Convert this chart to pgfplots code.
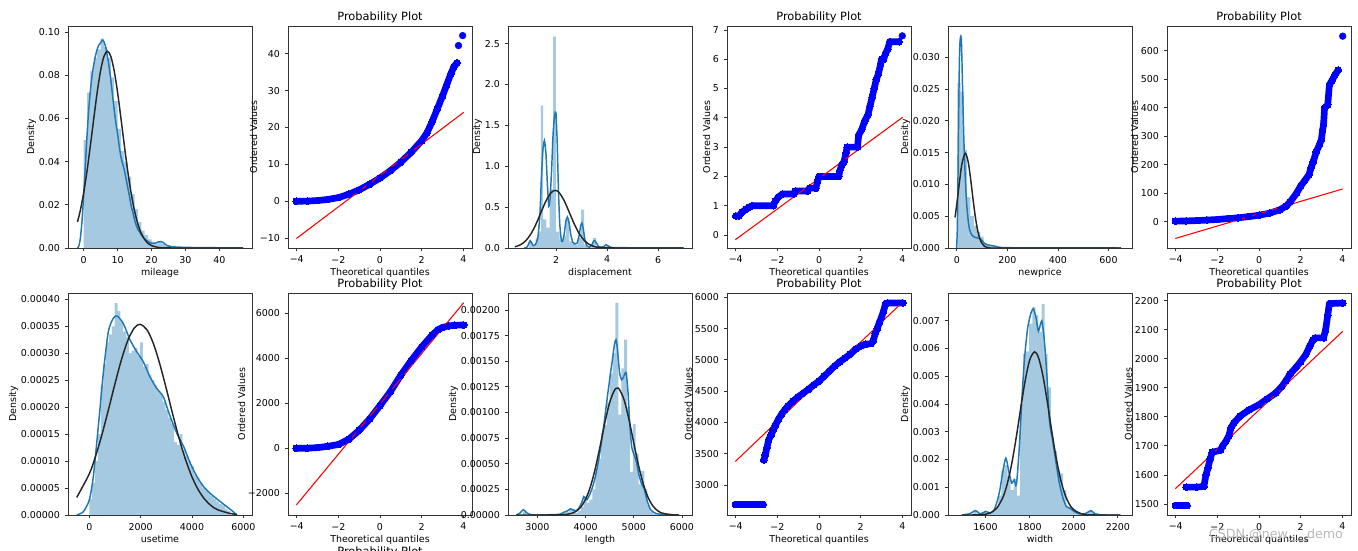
\documentclass[border=0pt]{standalone}
\usepackage{fontspec}
\setmainfont{DejaVu Sans}
\usepackage{pgfplots}
\pgfplotsset{compat=1.18}
\definecolor{mplblue}{RGB}{31,119,180}
\definecolor{fitk}{RGB}{38,38,38}
\pgfplotsset{
  mpl/.style={
    scale only axis, width=138pt, height=166.5pt, anchor=south west,
    axis line style={black!80, line width=0.6pt},
    tick align=outside, tick pos=left, major tick length=2.5pt,
    tick style={black!80, line width=0.6pt},
    tick label style={font=\fontsize{7.1}{8.5}\selectfont},
    label style={font=\fontsize{7.1}{8.5}\selectfont},
    xlabel style={yshift=3pt},
    ylabel style={yshift=-4.8pt},
    title style={font=\fontsize{8.55}{10}\selectfont, at={(0.5,1)}, anchor=base, yshift=-1.7pt},
    /pgf/number format/assume math mode=true,
    /pgf/number format/1000 sep={},
    scaled ticks=false, axis on top, clip=true,
  },
  dens/.style={mpl, ymin=0, ylabel={Density}},
  qq/.style={mpl, xmin=-4.42, xmax=4.42, xtick={-4,-2,0,2,4}, xticklabels={−4,−2,0,2,4},
    xlabel={Theoretical quantiles}, ylabel={Ordered Values}, title={Probability Plot}},
  hist/.style={const plot, fill=mplblue, fill opacity=0.4, draw=none, mark=none},
  kde/.style={mplblue, line width=1.1pt, smooth, tension=0.4, mark=none},
  fit/.style={fitk, line width=1.1pt, smooth, tension=0.5, mark=none},
  band/.style={blue, line width=5pt, line join=round, line cap=round, mark=*, mark size=2.5pt, mark options={draw=blue, fill=blue, line width=0pt}},
  pts/.style={blue, only marks, mark=*, mark size=2.5pt, mark options={draw=blue, fill=blue}},
  redline/.style={red, line width=0.8pt, mark=none},
}
\begin{document}
\begin{tikzpicture}[x=0.75pt,y=0.75pt]
\path[use as bounding box] (0,0) rectangle (1358,550);

% ---------- top row ----------
% mileage density
\begin{axis}[dens, at={(51pt,226.5pt)}, xmin=-4.6, xmax=49.6, ymax=0.1028, xlabel={mileage},
  xtick={0,10,20,30,40}, ytick={0,0.02,0.04,0.06,0.08,0.1},
  yticklabel style={/pgf/number format/fixed, /pgf/number format/fixed zerofill, /pgf/number format/precision=2}]
\addplot[hist] coordinates {(0,0.05)(1,0.072)(2,0.082)(3,0.088)(4,0.092)(5,0.097)(6,0.093)(7,0.088)(8,0.079)(9,0.068)(10,0.055)(11,0.045)(12,0.040)(13,0.033)(14,0.025)(15,0.018)(16,0.012)(17,0.008)(18,0.006)(19,0.004)(20,0.003)(21,0.002)(22,0.003)(23,0.002)(24,0.001)(25,0.001)(26,0.0005)(27,0.0002)(46,0.0002)(47,0)} \closedcycle;
\addplot[kde] coordinates {(-1.8,0)(-1.4,0.001)(-1,0.004)(-0.5,0.012)(0,0.024)(0.5,0.038)(1,0.052)(1.5,0.064)(2,0.073)(2.5,0.080)(3,0.085)(3.5,0.089)(4,0.092)(4.5,0.094)(5,0.095)(5.5,0.0963)(6,0.0955)(6.5,0.093)(7,0.089)(7.5,0.084)(8,0.078)(8.5,0.071)(9,0.064)(9.5,0.058)(10,0.053)(10.5,0.047)(11,0.042)(11.5,0.039)(12,0.036)(12.5,0.032)(13,0.028)(13.5,0.024)(14,0.0195)(14.5,0.0165)(15,0.013)(15.5,0.0105)(16,0.0085)(16.5,0.0075)(17,0.006)(18,0.0042)(19,0.003)(20,0.0022)(21,0.0022)(22,0.0028)(22.8,0.003)(23.5,0.0025)(24.5,0.0012)(26,0.0006)(28,0.0004)(30,0.0003)(33,0.0002)(36,0.0002)(40,0.0001)(44,0.0001)(47,0)};
\addplot[fit] coordinates {(-1.8,0.0121)(-1,0.0172)(0,0.0254)(1,0.0356)(2,0.0475)(3,0.0600)(4,0.0721)(5,0.0821)(6,0.0888)(7,0.0911)(8,0.0888)(9,0.0821)(10,0.0721)(11,0.0600)(12,0.0475)(13,0.0356)(14,0.0254)(15,0.0172)(16,0.0110)(17,0.0067)(18,0.0039)(19,0.0021)(20,0.0011)(22,0.00026)(24,0.00005)(27,0)(35,0)(47,0)};
\end{axis}

% mileage QQ
\begin{axis}[qq, at={(216pt,226.5pt)}, ymin=-12.66, ymax=47.5,
  ytick={-10,0,10,20,30,40}, yticklabels={−10,0,10,20,30,40}]
\addplot[band] coordinates {(-4.02,0)(-3.5,0.05)(-3,0.2)(-2.5,0.5)(-2,1.0)(-1.5,1.9)(-1,3.1)(-0.5,4.6)(0,6.3)(0.5,8.3)(1,10.6)(1.5,13.3)(2,16.4)(2.25,18.5)(2.5,21.5)(2.75,25)(3,28.5)(3.2,31.5)(3.4,34.5)(3.55,36.5)(3.7,37.5)};
\addplot[pts] coordinates {(3.77,42.2)(3.97,44.9)};
\addplot[redline] coordinates {(-4.02,-10.09)(4.02,24.09)};
\end{axis}

% displacement density
\begin{axis}[dens, at={(381pt,226.5pt)}, xmin=0.11, xmax=7.33, ymax=2.715, xlabel={displacement},
  xtick={2,4,6}, ytick={0,0.5,1,1.5,2,2.5},
  yticklabel style={/pgf/number format/fixed, /pgf/number format/fixed zerofill, /pgf/number format/precision=1}]
\addplot[hist] coordinates {(0.60,0)(0.93,0.08)(1.06,0.03)(1.19,0.12)(1.32,0.2)(1.40,1.742)(1.49,0.35)(1.62,0.25)(1.74,0.72)(1.88,2.585)(1.99,0.2)(2.14,0.10)(2.26,0.15)(2.39,0.35)(2.52,0.08)(2.65,0.05)(2.78,0.04)(2.86,0.12)(2.98,0.468)(3.10,0.04)(3.22,0.02)(3.45,0.125)(3.57,0.01)(3.96,0.025)(4.09,0.005)(7.0,0)} \closedcycle;
\addplot[kde, tension=0.3] coordinates {(0.75,0)(0.85,0.01)(0.92,0.05)(0.98,0.09)(1.04,0.06)(1.1,0.03)(1.18,0.04)(1.28,0.12)(1.36,0.4)(1.42,0.85)(1.48,1.2)(1.54,1.315)(1.6,1.15)(1.66,0.75)(1.71,0.51)(1.76,0.6)(1.82,0.95)(1.88,1.4)(1.94,1.63)(1.99,1.657)(2.04,1.3)(2.09,0.7)(2.14,0.3)(2.2,0.1)(2.25,0.08)(2.32,0.18)(2.38,0.33)(2.44,0.38)(2.5,0.32)(2.57,0.17)(2.65,0.07)(2.73,0.05)(2.82,0.06)(2.9,0.15)(2.96,0.27)(3.01,0.305)(3.07,0.22)(3.14,0.08)(3.22,0.02)(3.3,0.01)(3.4,0.04)(3.47,0.085)(3.52,0.09)(3.58,0.06)(3.66,0.02)(3.76,0.01)(3.88,0.02)(3.96,0.04)(4.04,0.025)(4.15,0.008)(4.4,0.004)(5,0.003)(5.5,0.003)(6,0.002)(6.5,0.002)(7.0,0)};
\addplot[fit] coordinates {(0.38,0.0145)(0.6,0.0396)(0.8,0.0868)(1.0,0.168)(1.2,0.2868)(1.4,0.432)(1.6,0.5755)(1.8,0.6766)(1.96,0.704)(2.1,0.683)(2.3,0.588)(2.5,0.4473)(2.7,0.3004)(2.9,0.178)(3.1,0.0933)(3.3,0.0431)(3.5,0.0176)(3.7,0.0063)(4.0,0.0011)(4.5,0)(5.5,0)(7.0,0)};
\end{axis}

% displacement QQ
\begin{axis}[qq, at={(545.25pt,226.5pt)}, ymin=-0.444, ymax=7.136, ytick={0,1,2,3,4,5,6,7}]
\addplot[band] coordinates {(-4.0,0.65)(-3.85,0.65)(-3.7,0.78)(-3.5,0.88)(-3.35,0.95)(-3.2,1.0)(-2.2,1.0)(-2.1,1.15)(-1.95,1.3)(-1.75,1.4)(-1.2,1.4)(-1.15,1.5)(-0.55,1.5)(-0.45,1.6)(-0.15,1.6)(-0.08,1.8)(0,2.0)(0.95,2.0)(1.0,2.2)(1.1,2.4)(1.2,2.5)(1.3,2.8)(1.35,3.0)(1.85,3.0)(1.9,3.4)(2.05,3.6)(2.2,3.9)(2.35,4.1)(2.45,4.4)(2.55,4.7)(2.65,5.0)(2.75,5.3)(2.85,5.5)(2.95,5.8)(3.0,6.0)(3.1,6.0)(3.2,6.2)(3.3,6.35)(3.4,6.6)(3.85,6.6)};
\addplot[pts] coordinates {(4.0,6.8)};
\addplot[redline] coordinates {(-4.02,-0.16)(4.02,4.02)};
\end{axis}

% newprice density
\begin{axis}[dens, at={(711pt,226.5pt)}, xmin=-34.8, xmax=693, ymax=0.0349, xlabel={newprice},
  xtick={0,200,400,600}, ytick={0,0.005,0.01,0.015,0.02,0.025,0.03},
  yticklabel style={/pgf/number format/fixed, /pgf/number format/fixed zerofill, /pgf/number format/precision=3}]
\addplot[hist] coordinates {(2,0.0259)(15,0.0246)(28,0.0154)(41,0.008)(54,0.005)(67,0.0035)(80,0.0025)(93,0.0018)(106,0.0008)(119,0.0004)(132,0.0003)(145,0.0002)(158,0.00005)(650,0)} \closedcycle;
\addplot[kde] coordinates {(-1,0)(2,0.003)(4,0.009)(6,0.016)(8,0.023)(10,0.029)(12,0.032)(14,0.0330)(16,0.0333)(18,0.0328)(20,0.030)(22,0.0265)(25,0.0215)(28,0.017)(31,0.0135)(34,0.0105)(37,0.0082)(40,0.0064)(45,0.0043)(50,0.003)(55,0.0024)(60,0.002)(70,0.0017)(80,0.0016)(90,0.0015)(100,0.0012)(110,0.0007)(120,0.0005)(135,0.0004)(150,0.0003)(170,0.0001)(200,0.00005)(300,0.00002)(400,0.00002)(500,0.00002)(650,0)};
\addplot[fit] coordinates {(-7,0.00481)(0,0.00688)(10,0.0102)(20,0.01317)(33.3,0.01489)(45,0.01354)(55,0.01073)(65,0.0074)(75,0.00444)(85,0.00232)(95,0.00105)(110,0.00025)(130,0.00002)(160,0)(400,0)(650,0)};
\end{axis}

% newprice QQ
\begin{axis}[qq, at={(875.25pt,226.5pt)}, ymin=-92, ymax=686.7, ytick={0,100,200,300,400,500,600}]
\addplot[band] coordinates {(-4.02,2)(-3.5,3)(-3,4)(-2.5,6)(-2,8)(-1.5,11)(-1,14)(-0.5,18)(0,23)(0.5,30)(1,42)(1.3,55)(1.5,70)(1.8,100)(2.0,125)(2.2,145)(2.4,165)(2.5,190)(2.6,210)(2.75,245)(2.9,270)(3.0,290)(3.05,320)(3.1,340)(3.15,400)(3.3,410)(3.38,480)(3.5,495)(3.65,515)(3.8,532)};
\addplot[pts] coordinates {(4.02,651)};
\addplot[redline] coordinates {(-4.02,-58.5)(4.02,115.1)};
\end{axis}

% ---------- bottom row ----------
% usetime density
\begin{axis}[dens, at={(51pt,26.25pt)}, xmin=-830, xmax=6338, ymax=0.0004117, xlabel={usetime},
  xtick={0,2000,4000,6000}, ytick={0,0.00005,0.0001,0.00015,0.0002,0.00025,0.0003,0.00035,0.0004},
  yticklabel style={/pgf/number format/fixed, /pgf/number format/fixed zerofill, /pgf/number format/precision=5}]
\addplot[hist] coordinates {(0,0.00003)(110,0.00006)(220,0.0001)(330,0.00015)(440,0.00024)(550,0.00028)(660,0.00032)(770,0.000335)(880,0.00035)(990,0.000393)(1100,0.000378)(1210,0.000359)(1320,0.00034)(1430,0.00033)(1540,0.0003)(1650,0.000305)(1760,0.00031)(1870,0.000295)(1980,0.00032)(2090,0.000275)(2200,0.00028)(2310,0.00026)(2420,0.00025)(2530,0.00024)(2640,0.00023)(2750,0.000225)(2860,0.00021)(2970,0.000195)(3080,0.00018)(3190,0.00017)(3300,0.000135)(3410,0.00013)(3520,0.00015)(3630,0.00012)(3740,0.00011)(3850,0.0001)(3960,0.00009)(4070,0.000075)(4180,0.00007)(4290,0.00006)(4400,0.00005)(4510,0.000045)(4620,0.00004)(4730,0.000035)(4840,0.00003)(4950,0.000025)(5060,0.00002)(5170,0.000018)(5280,0.000012)(5390,0.000007)(5500,0)} \closedcycle;
\addplot[kde] coordinates {(-490,0)(-233,0.000006)(0,0.0000278)(156,0.000071)(351,0.000164)(545,0.000263)(740,0.00034)(935,0.000365)(1090,0.000369)(1325,0.000355)(1585,0.000325)(1845,0.000303)(2105,0.000284)(2365,0.000256)(2625,0.000235)(2885,0.000219)(3155,0.000182)(3415,0.000151)(3675,0.000127)(3935,0.000096)(4195,0.000071)(4455,0.0000525)(4714,0.00004)(5104,0.0000247)(5494,0.0000105)(5754,0)};
\addplot[fit] coordinates {(-490,0.0000325)(0,0.0000764)(250,0.0001099)(500,0.0001504)(750,0.0001961)(1000,0.0002435)(1250,0.0002877)(1500,0.0003237)(1750,0.0003467)(1975,0.0003537)(2250,0.0003433)(2500,0.0003174)(2750,0.0002794)(3000,0.0002341)(3250,0.0001867)(3500,0.0001418)(3750,0.0001026)(4000,0.0000706)(4250,0.0000463)(4500,0.0000289)(4750,0.0000172)(5000,0.0000097)(5500,0.0000027)(5750,0.0000011)};
\end{axis}

% usetime QQ
\begin{axis}[qq, at={(216pt,26.25pt)}, ymin=-2964, ymax=6902,
  ytick={-2000,0,2000,4000,6000}, yticklabels={−2000,0,2000,4000,6000}]
\addplot[band] coordinates {(-4.02,0)(-3.5,5)(-3,30)(-2.5,90)(-2,170)(-1.5,400)(-1,800)(-0.5,1300)(0,1900)(0.5,2520)(1,3250)(1.5,3900)(2,4500)(2.5,5030)(2.8,5280)(3,5370)(3.3,5440)(3.6,5470)(4.02,5480)};
\addplot[redline] coordinates {(-4.02,-2519)(4.02,6469)};
\end{axis}

% length density
\begin{axis}[dens, at={(381pt,26.25pt)}, xmin=2388, xmax=6209, ymax=0.002166, xlabel={length},
  xtick={3000,4000,5000,6000}, ytick={0,0.00025,0.0005,0.00075,0.001,0.00125,0.0015,0.00175,0.002},
  yticklabel style={/pgf/number format/fixed, /pgf/number format/fixed zerofill, /pgf/number format/precision=5}]
\addplot[hist] coordinates {(2700,0.00003)(2760,0)(3480,0.00002)(3600,0.00003)(3660,0.00005)(3720,0.00006)(3780,0.00002)(3840,0.00004)(3900,0.00008)(3960,0.00018)(4020,0.00012)(4080,0.00015)(4140,0.00025)(4200,0.00045)(4260,0.00055)(4320,0.0008)(4380,0.00088)(4440,0.0011)(4500,0.00138)(4560,0.00158)(4620,0.00207)(4680,0.00098)(4740,0.00143)(4800,0.00171)(4860,0.00105)(4920,0.00042)(4980,0.00089)(5040,0.0006)(5100,0.0003)(5160,0.00043)(5220,0.00025)(5280,0.0001)(5340,0.00003)(5400,0.00001)(5460,0.000005)(5900,0)} \closedcycle;
\addplot[kde] coordinates {(2560,0)(2640,0.00002)(2708,0.000052)(2780,0.00002)(2850,0.000005)(3000,0)(3400,0.000005)(3480,0.00001)(3544,0.000026)(3620,0.00004)(3683,0.00006)(3740,0.00005)(3787,0.00004)(3850,0.00006)(3926,0.00013)(3961,0.00018)(4000,0.00016)(4031,0.00015)(4085,0.0002)(4135,0.00026)(4190,0.00035)(4240,0.00046)(4309,0.00065)(4379,0.00088)(4448,0.00114)(4518,0.00139)(4560,0.00153)(4600,0.00167)(4630,0.00171)(4660,0.00162)(4705,0.00139)(4747,0.00132)(4790,0.00135)(4840,0.00139)(4880,0.0012)(4914,0.00091)(4955,0.00067)(5004,0.00059)(5053,0.00052)(5108,0.00039)(5164,0.0003)(5213,0.00026)(5283,0.00013)(5352,0.00005)(5456,0.000016)(5595,0.000006)(5943,0)};
\addplot[fit] coordinates {(2560,0)(3000,0)(3500,0.0000019)(3700,0.0000149)(3800,0.0000359)(3900,0.0000781)(4000,0.0001544)(4100,0.0002774)(4200,0.0004523)(4300,0.0006697)(4400,0.0009005)(4500,0.0010993)(4600,0.001219)(4657,0.001238)(4700,0.001227)(4800,0.0011218)(4900,0.0009313)(5000,0.0007021)(5100,0.0004805)(5200,0.0002987)(5300,0.0001686)(5400,0.0000864)(5500,0.0000402)(5600,0.000017)(5800,0.0000023)(5943,0)};
\end{axis}

% length QQ
\begin{axis}[qq, at={(545.25pt,26.25pt)}, ymin=2521, ymax=6069, ytick={3000,3500,4000,4500,5000,5500,6000}]
\addplot[band] coordinates {(-4.02,2690)(-3.5,2690)(-3,2690)(-2.68,2690)};
\addplot[band] coordinates {(-2.65,3400)(-2.58,3480)(-2.5,3600)(-2.42,3720)(-2.3,3800)(-2.2,3880)(-2.1,3950)(-1.95,4050)(-1.8,4130)(-1.65,4200)(-1.5,4260)(-1.25,4340)(-1,4410)(-0.75,4470)(-0.5,4530)(-0.25,4600)(0,4660)(0.25,4740)(0.5,4820)(0.75,4900)(1,4970)(1.25,5030)(1.5,5090)(1.75,5170)(2,5220)(2.25,5250)(2.5,5260)(2.6,5300)(2.7,5420)(2.8,5500)(2.9,5600)(3.0,5680)(3.1,5780)(3.2,5900)(3.3,5910)(4.02,5910)};
\addplot[redline] coordinates {(-4.02,3377)(4.02,5925)};
\end{axis}

% width density
\begin{axis}[dens, at={(711pt,26.25pt)}, xmin=1430, xmax=2264, ymax=0.0080, xlabel={width},
  xtick={1600,1800,2000,2200}, ytick={0,0.001,0.002,0.003,0.004,0.005,0.006,0.007},
  yticklabel style={/pgf/number format/fixed, /pgf/number format/fixed zerofill, /pgf/number format/precision=3}]
\addplot[hist] coordinates {(1490,0)(1546,0.00015)(1560,0.00005)(1588,0.0001)(1602,0.00005)(1630,0.00015)(1644,0.0003)(1658,0.0007)(1672,0.0016)(1686,0.0018)(1700,0.0014)(1714,0.0009)(1728,0.0013)(1742,0.0007)(1756,0.0040)(1770,0.0058)(1784,0.0059)(1798,0.0069)(1812,0.0075)(1826,0.0072)(1840,0.0066)(1854,0.0076)(1868,0.0058)(1882,0.0046)(1896,0.0028)(1910,0.0023)(1924,0.0016)(1938,0.0015)(1952,0.0009)(1966,0.0003)(1980,0.0003)(1994,0.0002)(2008,0.0001)(2022,0.00005)(2036,0)(2064,0.00015)(2078,0.0001)(2092,0)(2210,0)} \closedcycle;
\addplot[kde] coordinates {(1493,0)(1530,0.00005)(1554,0.00016)(1577,0.00004)(1600,0.00013)(1623,0.00007)(1640,0.0002)(1653,0.0005)(1665,0.0009)(1676,0.00145)(1692,0.00205)(1707,0.00151)(1719,0.00115)(1730,0.00127)(1740,0.00109)(1753,0.00241)(1765,0.00422)(1777,0.00566)(1791,0.00674)(1806,0.00728)(1817,0.00743)(1829,0.0071)(1840,0.00662)(1855,0.0070)(1867,0.00626)(1879,0.00494)(1890,0.00337)(1905,0.00265)(1921,0.00181)(1936,0.00109)(1951,0.00061)(1966,0.00031)(1985,0.00023)(2005,0.00011)(2028,0.00004)(2055,0.00006)(2078,0.00016)(2095,0.00005)(2120,0.00001)(2150,0)(2211,0)};
\addplot[fit] coordinates {(1493,0)(1560,0.000003)(1600,0.0000279)(1620,0.00007)(1650,0.000236)(1680,0.000658)(1700,0.001168)(1720,0.001899)(1740,0.002833)(1760,0.003873)(1780,0.004854)(1800,0.005579)(1822,0.00588)(1840,0.005677)(1860,0.005027)(1880,0.00408)(1900,0.003036)(1920,0.002072)(1940,0.001296)(1960,0.000743)(1980,0.000391)(2000,0.000188)(2040,0.000034)(2100,0)(2211,0)};
\end{axis}

% width QQ
\begin{axis}[qq, at={(875.25pt,26.25pt)}, ymin=1462, ymax=2226.5, ytick={1500,1600,1700,1800,1900,2000,2100,2200}]
\addplot[band] coordinates {(-4.02,1495)(-3.7,1495)(-3.45,1495)};
\addplot[band] coordinates {(-3.5,1558)(-3,1558)(-2.65,1560)(-2.55,1600)(-2.45,1625)(-2.35,1655)(-2.25,1678)(-1.85,1685)(-1.75,1700)(-1.6,1715)(-1.45,1735)(-1.35,1762)(-1.2,1780)(-0.9,1803)(-0.5,1823)(0,1842)(0.4,1862)(0.8,1882)(1.1,1905)(1.3,1925)(1.5,1948)(1.8,1972)(2.0,1990)(2.25,2015)(2.45,2045)(2.6,2065)(2.7,2072)(3.1,2072)(3.2,2100)(3.3,2150)(3.38,2190)(4.02,2192)};
\addplot[redline] coordinates {(-4.02,1552.6)(4.02,2094.4)};
\end{axis}

\node[font=\fontsize{8.55}{10}\selectfont, anchor=base] at (380,-5) {Probability Plot};
\node[font=\fontsize{9.5}{11}\selectfont, text=black!28] at (1276,15) {CSDN @new\_\_\_demo};
\end{tikzpicture}
\end{document}
